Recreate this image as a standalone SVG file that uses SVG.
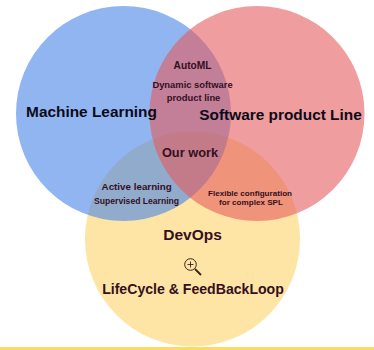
<svg xmlns="http://www.w3.org/2000/svg" width="374" height="350" viewBox="0 0 374 350">
<style>
text{font-family:"Liberation Sans",Arial,sans-serif;font-weight:bold;text-anchor:middle;fill:#33101f}
.c{fill-opacity:.6}
.a{font-size:15.4px;fill:#0b0b18}
.b{font-size:14.1px}
.d{font-size:15.5px}
.m{font-size:10.2px}
.s{font-size:9.4px}
.t{font-size:8.6px}
.u{font-size:8.1px}
</style>
<rect width="374" height="350" fill="#fff"/>
<g id="devops"><circle class="c" cx="192.500" cy="239" r="107.500" fill="#ffd469"/></g>
<g id="ml"><circle class="c" cx="123.500" cy="113.500" r="107.500" fill="#4884e8"/></g>
<g id="spl"><circle class="c" cx="257" cy="113.500" r="107.500" fill="#e45c5e"/></g>
<rect x="0" y="347" width="374" height="3" fill="#ffd966"/>
<g id="labels">
<text class="a" x="91.500" y="117">Machine Learning</text>
<text class="a" x="280.500" y="119.500">Software product Line</text>
<text class="m" x="192.500" y="69">AutoML</text>
<text class="s" x="192.500" y="88">Dynamic software</text>
<text class="s" x="193.500" y="101">product line</text>
<text style="font-size:12.800px" x="190" y="157">Our work</text>
<text style="font-size:9.800px" x="136.700" y="190">Active learning</text>
<text class="t" x="136.600" y="204">Supervised Learning</text>
<text class="u" x="250" y="195.700">Flexible configuration</text>
<text class="u" x="251" y="205">for complex SPL</text>
<text class="d" x="192.500" y="240">DevOps</text>
<text class="b" x="193" y="294">LifeCycle &amp; FeedBackLoop</text>
</g>
<g id="zoom-icon" fill="none" stroke="#33241c">
<circle cx="190.500" cy="264.500" r="5.800" stroke-width="1"/>
<path d="M187.500 264.500h6M190.500 261.500v6" stroke-width=".9"/>
<path d="M195 269l6 6" stroke-width="1.800"/>
</g>
</svg>
